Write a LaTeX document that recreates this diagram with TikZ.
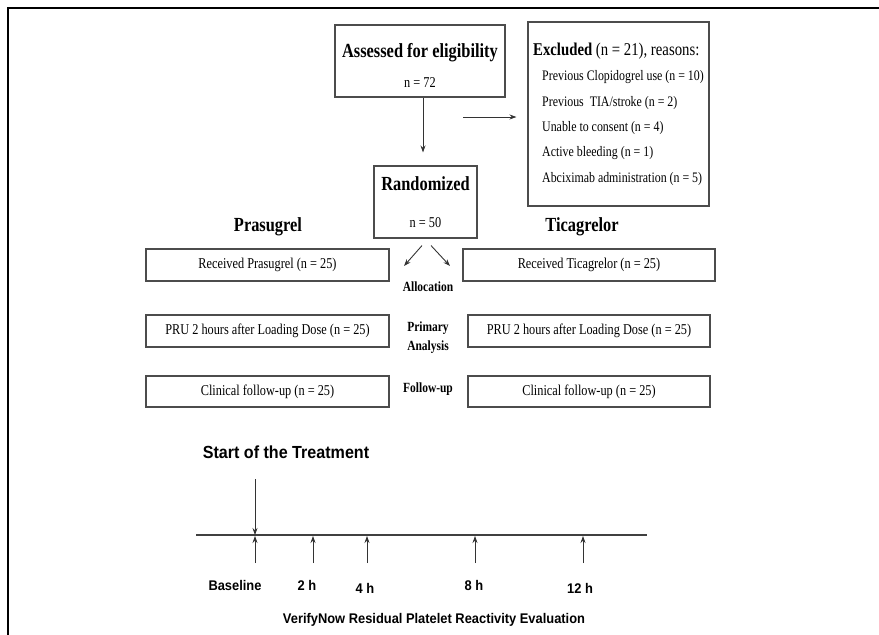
\documentclass[tikz,border=0pt]{standalone}
\usepackage{fontspec}
\setmainfont{Liberation Serif}[FakeStretch=0.82]
\setsansfont{Liberation Sans}[FakeStretch=0.92]
\usetikzlibrary{arrows.meta}

\tikzset{
  box/.style={draw=black!70, line width=1.1pt, inner sep=0pt},
  arr/.style={draw=black!80, line width=0.9pt, -{Stealth[length=7pt,width=5pt]}},
  phase/.style={font=\fontsize{14}{19}\selectfont\bfseries, align=center},
  tick/.style={font=\sffamily\bfseries\fontsize{14}{17}\selectfont}
}

\begin{document}
\begin{tikzpicture}[x=1pt,y=-1pt]
\useasboundingbox (0,0) rectangle (879,635);
\draw [line width=2.5pt] (8,635) -- (8,8) -- (879,8);

\node [box, minimum width=170pt, minimum height=72pt, align=center, font=\fontsize{15}{29.4}\selectfont] (assess) at (420,61)
{\rule{0pt}{22.6pt}{\fontsize{20}{29.4}\selectfont\bfseries Assessed for eligibility}\\n = 72};
\node [box, minimum width=181pt, minimum height=184pt, align=left, font=\fontsize{14.5}{25.4}\selectfont] (excl) at (618.5,114)
{{\fontsize{18}{25.4}\selectfont\textbf{Excluded} (n = 21), reasons:}\\
\hspace*{9pt}Previous Clopidogrel use (n = 10)\\
\hspace*{9pt}Previous\ \ TIA/stroke (n = 2)\\
\hspace*{9pt}Unable to consent (n = 4)\\
\hspace*{9pt}Active bleeding (n = 1)\\
\hspace*{9pt}Abciximab administration (n = 5)};
\node [box, minimum width=103pt, minimum height=72pt, align=center, font=\fontsize{15}{36.4}\selectfont] (rand) at (425.5,202)
{{\fontsize{20}{36.4}\selectfont\bfseries Randomized}\\n = 50};

\coordinate (exclstart) at (463,117);
\draw [arr] ([xshift=3pt]assess.south) -- ([xshift=-2.5pt,yshift=13pt]rand.north);
\draw [arr, shorten >=11pt] (exclstart) -- (exclstart -| excl.west);

\node [font=\fontsize{20}{24}\selectfont\bfseries] (pras) at (268,227) {Prasugrel};
\node [font=\fontsize{20}{24}\selectfont\bfseries] (tica) at (582,227) {Ticagrelor};

\coordinate (toP) at (404,266);
\coordinate (toT) at (450,266);
\draw [arr] ([xshift=-3.5pt,yshift=-7pt]rand.south) -- (toP);
\draw [arr] ([xshift=5.5pt,yshift=-7pt]rand.south) -- (toT);

\node [box, minimum width=243pt, minimum height=32pt, font=\fontsize{15}{18}\selectfont] (recP) at (267.5,265) {Received Prasugrel (n = 25)};
\node [box, minimum width=252pt, minimum height=32pt, font=\fontsize{15}{18}\selectfont] (recT) at (589,265) {Received Ticagrelor (n = 25)};
\node [box, minimum width=243pt, minimum height=32pt, font=\fontsize{15}{18}\selectfont] (pruP) at (267.5,331) {PRU 2 hours after Loading Dose (n = 25)};
\node [box, minimum width=242pt, minimum height=32pt, font=\fontsize{15}{18}\selectfont] (pruT) at (589,331) {PRU 2 hours after Loading Dose (n = 25)};
\node [box, minimum width=243pt, minimum height=31pt, font=\fontsize{15}{18}\selectfont] (fupP) at (267.5,391.5) {Clinical follow-up (n = 25)};
\node [box, minimum width=242pt, minimum height=31pt, font=\fontsize{15}{18}\selectfont] (fupT) at (589,391.5) {Clinical follow-up (n = 25)};

\node [phase] (alloc) at (428,287) {Allocation};
\node [phase] (prim) at (428,338) {Primary\\Analysis};
\node [phase] (fup) at (428,389) {Follow-up};

\node [font=\sffamily\bfseries\fontsize{17.5}{21}\selectfont] (start) at (286,452) {Start of the Treatment};
\coordinate (tl0) at (196,535);
\coordinate (tl1) at (647,535);
\draw [line width=2pt, black!75] (tl0) -- (tl1);
\coordinate (treat) at (255,479);
\draw [arr, line width=0.7pt] (treat) -- (treat |- tl0);

\foreach \ax/\lx/\ly/\txt [count=\i] in {255/235/585/Baseline, 313/307/585/2 h, 367/365/588/4 h, 475/474/585/8 h, 583/580/588/12 h}
{
\node [tick] (t\i) at (\lx,\ly) {\txt};
\coordinate (up\i) at (\ax,563);
\draw [arr, line width=0.7pt] (up\i) -- ([yshift=-1pt]up\i |- tl0);
}

\node [tick] (verify) at (434,620) {VerifyNow Residual Platelet Reactivity Evaluation};
\end{tikzpicture}
\end{document}
